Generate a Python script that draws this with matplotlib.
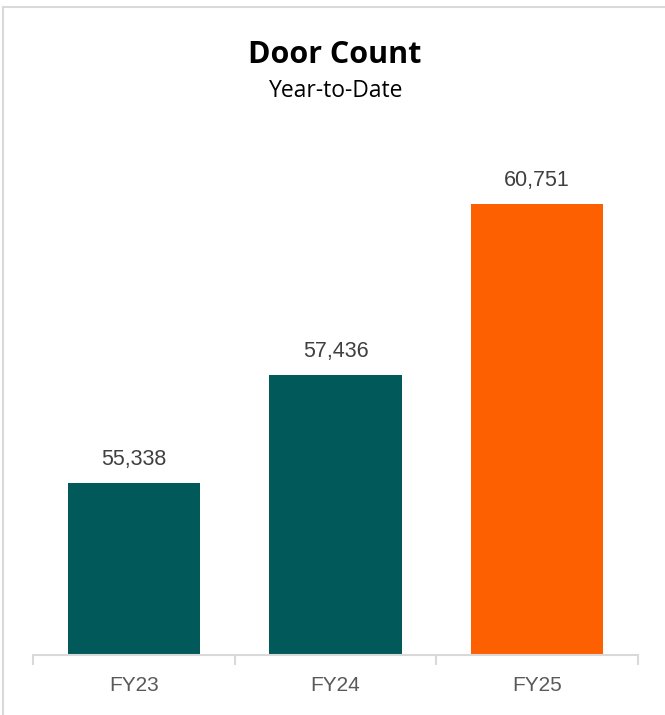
import matplotlib
matplotlib.use("Agg")
import matplotlib.pyplot as plt
from matplotlib.lines import Line2D

categories = ["FY23", "FY24", "FY25"]
values = [55338, 57436, 60751]
bar_colors = ["#02595A", "#02595A", "#FC6000"]

fig = plt.figure(figsize=(6.65, 7.15), dpi=100)

# light gray chart border (only top and left edges show)
bx, by = 2.5 / 665, 1 - 6.5 / 715
fig.lines.append(Line2D([bx, 1], [by, by], transform=fig.transFigure,
                        color="#D9D9D9", linewidth=1.5))
fig.lines.append(Line2D([bx, bx], [0, by], transform=fig.transFigure,
                        color="#D9D9D9", linewidth=1.5))

ax = fig.add_axes([33 / 665, 1 - 655 / 715, 605 / 665, 515 / 715])
x = range(len(categories))
ax.bar(x, values, width=0.655, color=bar_colors)
ax.set_ylim(52000, 62000)
ax.set_xlim(-0.5, 2.5)

for xi, v in zip(x, values):
    ax.text(xi, v + 250, f"{v:,}", ha="center", va="bottom",
            fontsize=15.5, color="#404040", family="Liberation Sans")

for s in ["top", "right", "left"]:
    ax.spines[s].set_visible(False)
ax.spines["bottom"].set_color("#D9D9D9")
ax.spines["bottom"].set_linewidth(1.5)
ax.set_yticks([])

ax.set_xticks([-0.5, 0.5, 1.5, 2.5])
ax.set_xticklabels([])
ax.tick_params(axis="x", which="major", length=7, color="#D9D9D9", width=1.5)
ax.set_xticks(list(x), minor=True)
ax.set_xticklabels(categories, minor=True)
ax.tick_params(axis="x", which="minor", length=0, pad=15, labelsize=15,
               labelcolor="#595959")
for lbl in ax.get_xticklabels(minor=True):
    lbl.set_family("Liberation Sans")

fig.text(335 / 665, 1 - 55 / 715, "Door Count", ha="center", va="center",
         fontsize=22, fontweight="bold", family="Open Sans", color="black")
fig.text(336 / 665, 1 - 91 / 715, "Year-to-Date", ha="center", va="center",
         fontsize=16.5, family="Open Sans", color="black")

fig.savefig("out.png", dpi=100)
